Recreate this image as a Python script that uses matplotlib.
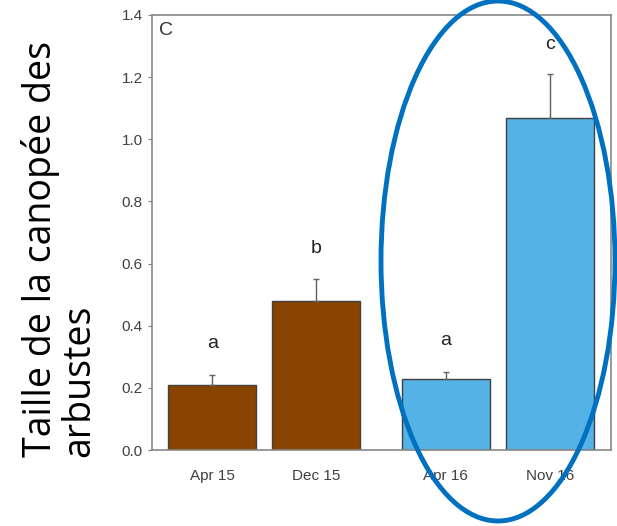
import matplotlib.pyplot as plt
from matplotlib.patches import Ellipse

# data
periods = ["Apr 15", "Dec 15", "Apr 16", "Nov 16"]
canopy = [0.21, 0.48, 0.23, 1.07]
errors = [0.03, 0.07, 0.02, 0.14]
letters = ["a", "b", "a", "c"]
letter_y = [0.344, 0.65, 0.354, 1.305]
positions = [0, 1, 2.25, 3.25]
colors = ["#884400", "#884400", "#55B2E7", "#55B2E7"]

W, H = 617, 526
fig = plt.figure(figsize=(W / 100, H / 100), dpi=100)
ax = fig.add_axes([152 / W, 1 - 450 / H, (611 - 152) / W, (450 - 15) / H])

ax.bar(positions, canopy, width=0.85, color=colors, edgecolor="#404040", linewidth=1)
ax.errorbar(positions, canopy, yerr=[[0] * 4, errors], fmt="none",
            ecolor="#606060", elinewidth=1, capsize=2, capthick=1)
for x, y, t in zip(positions, letter_y, letters):
    ax.text(x, y, t, ha="center", va="center", fontsize=14, color="#222222",
            family="Liberation Sans")

ax.set_xlim(-0.58, 3.84)
ax.set_ylim(0, 1.4)
ax.set_yticks([0.0, 0.2, 0.4, 0.6, 0.8, 1.0, 1.2, 1.4])
ax.set_yticklabels([f"{v:.1f}" for v in ax.get_yticks()])
ax.set_xticks(positions)
ax.set_xticklabels(periods)
ax.tick_params(axis="x", length=0, pad=14)
ax.tick_params(axis="y", length=3, direction="out", color="#808080")
for lab in ax.get_xticklabels() + ax.get_yticklabels():
    lab.set_family("Liberation Sans")
    lab.set_fontsize(11)
    lab.set_color("#404040")
for s in ax.spines.values():
    s.set_color("#888888")
    s.set_linewidth(1.2)

ax.text(0.015, 0.985, "C", transform=ax.transAxes, ha="left", va="top",
        fontsize=14, color="#333333", family="Liberation Sans")

fig.text(60 / W, 1 - 457 / H, "Taille de la canopée des\narbustes", rotation=90,
         ha="center", va="bottom", multialignment="left", fontsize=27,
         family="Open Sans", linespacing=1.0)

ell = Ellipse((498 / W, 1 - 261 / H), 234 / W, 520 / H, transform=fig.transFigure,
              fill=False, edgecolor="#0070C0", linewidth=3.5, clip_on=False)
fig.add_artist(ell)

fig.savefig("out.png", dpi=100)
